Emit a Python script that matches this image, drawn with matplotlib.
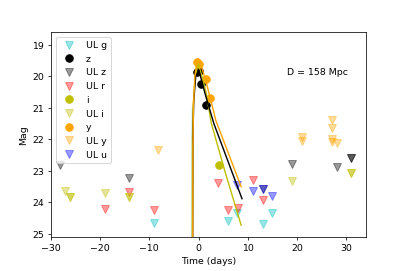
import matplotlib
matplotlib.use("Agg")
import matplotlib.pyplot as plt

# ── data ───────────────────────────────────────────────────────────────────
# detections (time in days, mag)
z_t = [-0.3, 0.1, 0.45, 1.5]
z_m = [19.85, 19.82, 20.24, 20.92]
i_t = [4.08]
i_m = [22.80]
y_t = [-0.4, 0.12, 1.5, 2.3]
y_m = [19.55, 19.6, 20.08, 20.68]

# upper limits
ulg_t = [-9.06, 5.98, 7.88, 12.98, 14.96]
ulg_m = [24.65, 24.59, 24.33, 24.69, 24.32]
ulz_t = [-28.2, -14.16, 12.98, 18.98, 28.0, 31.0, 31.0]
ulz_m = [22.82, 23.21, 23.56, 22.77, 22.88, 22.59, 22.59]
ulr_t = [-19.06, -14.16, -9.06, 4.0, 5.98, 8.08, 10.94, 12.98]
ulr_m = [24.21, 23.67, 24.25, 23.38, 24.23, 24.17, 23.30, 23.93]
uli_t = [-27.1, -26.1, -26.1, -19.06, -14.16, -14.16, 18.98, 31.0, 31.0]
uli_m = [23.64, 23.83, 23.83, 23.69, 23.83, 23.83, 23.32, 23.07, 23.07]
uly_t = [-8.16, 20.94, 20.94, 27.0, 27.0, 27.0, 27.0, 28.1]
uly_m = [22.33, 21.93, 22.05, 21.38, 21.63, 21.98, 22.08, 22.12]
ulu_t = [7.88, 10.94, 12.98, 14.96]
ulu_m = [23.46, 23.65, 23.56, 23.80]

# model light curves
mod_g_t = [-1.38, -1.33, -1.25]
mod_g_m = [26.0, 21.8, 21.0]
mod_i_t = [-1.3, -1.25, -1.1, -0.7, -0.1, 0.5, 1.5, 2.6, 5.5, 8.63]
mod_i_m = [26.0, 22.0, 20.9, 20.0, 19.6, 19.9, 20.5, 21.5, 23.1, 24.72]
mod_z_t = [-1.22, -1.17, -1.0, -0.6, 0.05, 1.4, 3.1, 8.8]
mod_z_m = [26.0, 22.0, 20.8, 20.0, 19.8, 20.6, 21.5, 23.88]
mod_y_t = [-1.2, -1.17, -1.05, -0.76, -0.4, -0.1, 0.4, 1.4, 2.3, 3.5, 8.63]
mod_y_m = [26.0, 22.2, 20.92, 19.97, 19.6, 19.44, 19.6, 20.1, 20.65, 21.4, 23.5]

fig = plt.figure(figsize=(6, 4), dpi=67.8)
ax = fig.add_subplot(111)
fig.subplots_adjust(left=0.125, right=0.9, top=0.88, bottom=0.125)

ms = 8
al = 0.4
ax.plot(ulg_t, ulg_m, "v", color="c", alpha=al, ms=ms, ls="none", label="UL g")
ax.plot(z_t, z_m, "o", color="k", ms=ms, ls="none", label="z")
ax.plot(ulz_t, ulz_m, "v", color="k", alpha=al, ms=ms, ls="none", label="UL z")
ax.plot(ulr_t, ulr_m, "v", color="r", alpha=al, ms=ms, ls="none", label="UL r")
ax.plot(i_t, i_m, "o", color="y", ms=ms, ls="none", label="i")
ax.plot(uli_t, uli_m, "v", color="y", alpha=al, ms=ms, ls="none", label="UL i")
ax.plot(y_t, y_m, "o", color="orange", ms=ms, ls="none", label="y")
ax.plot(uly_t, uly_m, "v", color="orange", alpha=al, ms=ms, ls="none", label="UL y")
ax.plot(ulu_t, ulu_m, "v", color="b", alpha=al, ms=ms, ls="none", label="UL u")

ax.plot(mod_g_t, mod_g_m, color="c", alpha=0.3, lw=1.5, zorder=3)
ax.plot(mod_i_t, mod_i_m, color="y", lw=1.5, zorder=3)
ax.plot(mod_z_t, mod_z_m, color="k", lw=1.5, zorder=3)
ax.plot(mod_y_t, mod_y_m, color="orange", lw=1.5, zorder=3)

ax.text(18, 19.95, "D = 158 Mpc", fontsize=10)

ax.set_xlim(-30, 34)
ax.set_ylim(25.1, 18.6)
ax.set_xlabel("Time (days)")
ax.set_ylabel("Mag")
ax.legend(loc="upper left")

fig.savefig("out.png", dpi=67.8)
